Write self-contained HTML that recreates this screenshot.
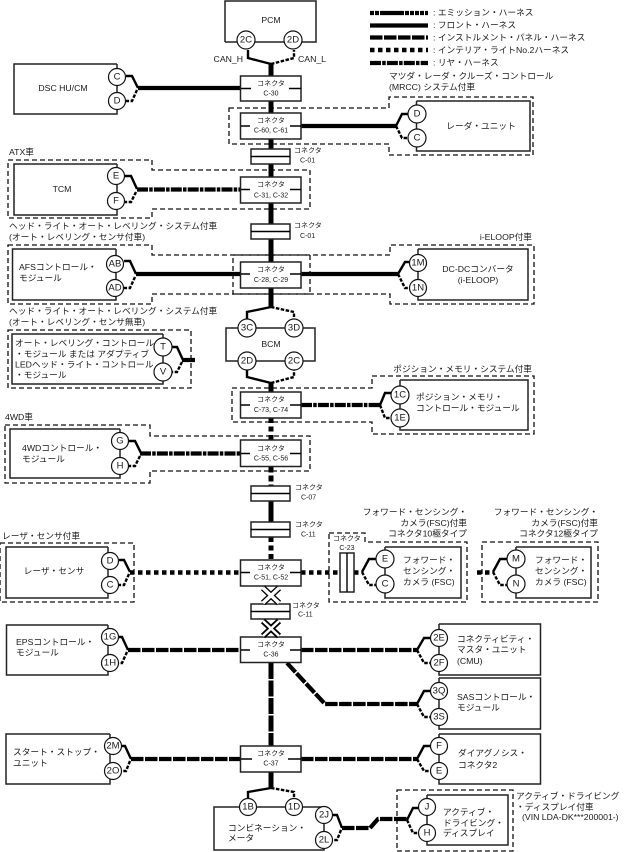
<!DOCTYPE html>
<html><head><meta charset="utf-8"><style>
html,body{margin:0;padding:0;background:#fff}
svg{display:block}
text{font-family:"Liberation Sans","Noto Sans CJK JP",sans-serif;font-size:8.7px;fill:#1a1a1a;dominant-baseline:central}
.s{font-size:7px}
.m{text-anchor:middle}
.e{text-anchor:end}
.c{font-size:9.5px;text-anchor:middle}
.b{fill:none;stroke:#222;stroke-width:1.5}
.d{fill:none;stroke:#111;stroke-width:1.3;stroke-dasharray:5 3}
.o{fill:#fff;stroke:#111;stroke-width:1.2}
.f{fill:none;stroke:#000;stroke-width:2.4}
.g{fill:none;stroke:#000;stroke-width:2.4;stroke-dasharray:3.5 1.5}
.t{fill:none;stroke:#000;stroke-width:1.4}
.w0{fill:none;stroke:#000;stroke-width:4.2}
.ip{fill:none;stroke:#000;stroke-width:4.2;stroke-dasharray:12.5 1.5}
.in{fill:none;stroke:#000;stroke-width:4.5;stroke-dasharray:4.5 3.5}
.re{fill:none;stroke:#000;stroke-width:4.2;stroke-dasharray:11 1.2 3.5 1.2}
.em{fill:none;stroke:#000;stroke-width:4.2;stroke-dasharray:4 1 4 1 24 1 4 1 4 1}
.v{fill:none;stroke:#000;stroke-width:5}
</style></head><body>
<svg width="627" height="852" viewBox="0 0 627 852" xmlns="http://www.w3.org/2000/svg">
<!-- legend -->
<path class="em" d="M370 13H428"/><path class="w0" d="M370 25.500H428"/><path class="ip" d="M370 37.500H428"/><path class="in" d="M370 50H428"/><path class="re" d="M370 63H428"/>
<text x="433" y="12.500">: エミッション・ハーネス</text>
<text x="433" y="25">: フロント・ハーネス</text>
<text x="433" y="37.500">: インストルメント・パネル・ハーネス</text>
<text x="433" y="50">: インテリア・ライトNo.2ハーネス</text>
<text x="433" y="62.500">: リヤ・ハーネス</text>
<text x="389" y="76">マツダ・レーダ・クルーズ・コントロール</text>
<text x="389" y="87">(MRCC) システム付車</text>

<!-- dashed zones -->
<path class="d" d="M229 108H389V97H533V155H389V144H229Z"/>
<path class="d" d="M8 160H152V170H310V209H152V218H8Z"/>
<path class="d" d="M8 245H152V255H310V294H152V304H8Z"/>
<path class="d" d="M233 255H390V245H534V304H390V294H233Z"/>
<path class="d" d="M8 330H191V388H8Z"/>
<path class="d" d="M232 388H372V376H534V434H372V422H232Z"/>
<path class="d" d="M5 425H150V436H310V471H150V483H5Z"/>
<path class="d" d="M0 543H134V602H0Z"/>
<path class="d" d="M329 533H365V542H467V602H329Z"/>
<path class="d" d="M482 542H598V602H482Z"/>
<path class="d" d="M397 790H513V851H397Z"/>

<!-- spine -->
<path class="v" d="M271 64V76M271 101V113M271 139V149M271 164V177"/>
<path class="v" d="M271 203V224M271 239V262M271 288V307"/>
<path class="v" d="M271 383V392" />
<path class="v" d="M271 418V440" stroke-dasharray="5 3.500"/>
<path class="v" d="M271 466.500V486" stroke-dasharray="6 3"/>
<path class="v" d="M271 501V522"/>
<path class="v" d="M271 537V560" stroke-dasharray="5 3.500"/>
<path class="v" d="M271 663V746" stroke-dasharray="16 1.500"/>
<path class="v" d="M271 772V788"/>

<!-- devices -->
<path class="b" d="M225 42V1H316V42H225"/>
<path class="b" d="M117 64H14V114H117V64"/>
<path class="b" d="M416.500 101H530V151H416.500V101"/>
<path class="b" d="M117 164H14V215H117V164"/>
<path class="b" d="M116 249H12.500V300H116V249"/>
<path class="b" d="M418 249H528V300H418V249"/>
<path class="b" d="M163 334H12V384H163V334"/>
<path class="b" d="M226 328H315V361H226Z"/>
<path class="b" d="M400 380H528V430H400V380"/>
<path class="b" d="M120 429H10V478H120V429"/>
<path class="b" d="M108 547H6V598H108V547"/>
<path class="b" d="M385 547H461V598H385V547"/>
<path class="b" d="M516 547H591V598H516V547"/>
<path class="b" d="M108 625H6.500V675H108V625"/>
<path class="b" d="M439 624H540.500V675H439V624"/>
<path class="b" d="M439 678H540.500V729H439V678"/>
<path class="b" d="M110 734H6V784H110V734"/>
<path class="b" d="M439 734H540.500V784H439V734"/>
<path class="b" d="M324 807H214V850H324V807"/>
<path class="b" d="M427 795H508V845H427V795"/>

<!-- harnesses -->
<path class="f" d="M248 50V58L271 64"/><path class="g" d="M271 64L294 58V50"/>
<path class="w0" d="M138 88H240"/><path class="f" d="M126 76H132L138 88"/><path class="g" d="M137 90L132 101H126"/>
<path class="w0" d="M301 126H396"/><path class="f" d="M396 126L402 114H408"/><path class="g" d="M396 126L402 138H408"/>
<path class="re" d="M137 189.500H240"/><path class="f" d="M125 176H131L137 189"/><path class="g" d="M136 192L131 202H125"/>
<path class="w0" d="M136 274H240M301 274H398"/><path class="f" d="M124 261H130L136 274"/><path class="g" d="M135 277L130 288H124"/>
<path class="f" d="M398 274L405 262H410"/><path class="g" d="M398 274L405 288H410"/>
<path class="w0" d="M182 360H195"/><path class="f" d="M172 347H177L183 360"/><path class="g" d="M182 362L177 372H172"/>
<path class="f" d="M271 307L247 312V320"/><path class="g" d="M271 307L294 312V320"/>
<path class="f" d="M247 370V377L271 383"/><path class="g" d="M271 383L294 377V370"/>
<path class="re" d="M301 405H380"/><path class="f" d="M380 405L385 393H391"/><path class="g" d="M380 405L385 418H391"/>
<path class="re" d="M140 453.500H240"/><path class="f" d="M129 441H135L141 453"/><path class="g" d="M140 456L135 466H129"/>
<path class="in" d="M130 572.500H240M301 572.500H340M354 572.500H362"/><path class="f" d="M119 560H124L130 572"/><path class="g" d="M129 574L124 585H119"/>
<path class="f" d="M362 572L369 559H376"/><path class="g" d="M362 572L369 585H376"/>
<path class="in" d="M477 572.500H493"/><path class="f" d="M493 572L500 559H507"/><path class="g" d="M493 572L500 585H507"/>
<path class="ip" d="M128 650H240M301 650H417"/><path class="f" d="M119 637H122L128 650"/><path class="g" d="M127 652L122 663H119"/>
<path class="f" d="M417 650L424 638H430"/><path class="g" d="M417 650L424 663H430"/>
<path class="ip" d="M287 663L325 704H417"/><path class="f" d="M417 704L424 691H430"/><path class="g" d="M417 704L424 717H430"/>
<path class="ip" d="M131 759H240M301 759H417"/><path class="f" d="M122 746H125L131 759"/><path class="g" d="M130 761L126 771H122"/>
<path class="f" d="M417 759L424 746H430"/><path class="g" d="M417 759L424 771H430"/>
<path class="f" d="M271 788L248 792V800"/><path class="g" d="M271 788L294 792V800"/>
<path class="f" d="M333 815H337L342 828"/><path class="g" d="M341 830L337 840H333"/>
<path class="ip" d="M342 828H370L378 819H407"/><path class="f" d="M407 820L413 808H419"/><path class="g" d="M407 820L413 833H419"/>

<!-- connector boxes -->
<g class="o" style="stroke:#222;stroke-width:1.5">
<rect x="240.500" y="76" width="60.500" height="25"/>
<rect x="240.500" y="113" width="60.500" height="26"/>
<rect x="240.500" y="177" width="60.500" height="26"/>
<rect x="240.500" y="262" width="60.500" height="26"/>
<rect x="240.500" y="392" width="60.500" height="26"/>
<rect x="240.500" y="440" width="60.500" height="26.500"/>
<rect x="240.500" y="560" width="60.500" height="26"/>
<rect x="240.500" y="637" width="60.500" height="25.500"/>
<rect x="240.500" y="746" width="60.500" height="26"/>
<rect x="251" y="149" width="39" height="15"/>
<rect x="251" y="224" width="39" height="15"/>
<rect x="251" y="486" width="39" height="15"/>
<rect x="251" y="522" width="39" height="15"/>
<rect x="251" y="604" width="39" height="15"/>
<rect x="340" y="553" width="14" height="39"/>
</g>
<path class="t" d="M251 156.500H290M251 231.500H290M251 493.500H290M251 529.500H290M251 611.500H290M347 553V592"/>
<path class="t" d="M241 88.500H251M289 88.500H301M241 126H250M290 126H301M241 189.500H250M290 189.500H301M241 274H250M290 274H301M241 405H250M290 405H301M241 453.500H250M290 453.500H301M241 572.500H250M290 572.500H301M241 650H250M290 650H301M241 759H252M288 759H301"/>

<!-- X marks -->
<path d="M263 588L279 603M279 588L263 603M263 621L279 636M279 621L263 636" fill="none" stroke="#000" stroke-width="6"/>
<path d="M263 588L279 603M279 588L263 603" fill="none" stroke="#fff" stroke-width="3.500"/>
<path d="M263 621L279 636M279 621L263 636" fill="none" stroke="#fff" stroke-width="2.500"/>

<!-- pin circles -->
<g class="o">
<circle cx="246" cy="40" r="9"/><circle cx="293" cy="40" r="9"/>
<circle cx="117" cy="77" r="8.500"/><circle cx="117" cy="101" r="8.500"/>
<circle cx="417" cy="114" r="9"/><circle cx="417" cy="138" r="9"/>
<circle cx="116" cy="176" r="8.500"/><circle cx="116" cy="201" r="8.500"/>
<circle cx="115" cy="264" r="8.500"/><circle cx="115" cy="288" r="8.500"/>
<circle cx="418" cy="263" r="8.500"/><circle cx="418" cy="288" r="8.500"/>
<circle cx="163" cy="347" r="9"/><circle cx="163" cy="372" r="9"/>
<circle cx="247" cy="328" r="9"/><circle cx="294" cy="328" r="9"/>
<circle cx="247" cy="361" r="9"/><circle cx="294" cy="361" r="9"/>
<circle cx="400" cy="395" r="9"/><circle cx="400" cy="418" r="9"/>
<circle cx="120" cy="441" r="8.500"/><circle cx="120" cy="466" r="8.500"/>
<circle cx="110" cy="561" r="8.500"/><circle cx="110" cy="585" r="8.500"/>
<circle cx="385" cy="559" r="9"/><circle cx="385" cy="584" r="9"/>
<circle cx="516" cy="559" r="9"/><circle cx="516" cy="584" r="9"/>
<circle cx="110" cy="637" r="8.500"/><circle cx="110" cy="663" r="8.500"/>
<circle cx="439" cy="638" r="8.500"/><circle cx="439" cy="663" r="8.500"/>
<circle cx="439" cy="691" r="8.500"/><circle cx="439" cy="717" r="8.500"/>
<circle cx="113" cy="746" r="8.500"/><circle cx="113" cy="771" r="8.500"/>
<circle cx="439" cy="746" r="8.500"/><circle cx="439" cy="771" r="8.500"/>
<circle cx="248" cy="807" r="8.500"/><circle cx="294" cy="807" r="8.500"/>
<circle cx="324" cy="815" r="8.500"/><circle cx="324" cy="840" r="8.500"/>
<circle cx="427" cy="807" r="8.500"/><circle cx="427" cy="833" r="8.500"/>
</g>
<text class="c" x="246" y="40">2C</text><text class="c" x="293" y="40">2D</text>
<text class="c" x="117" y="77">C</text><text class="c" x="117" y="101">D</text>
<text class="c" x="417" y="114">D</text><text class="c" x="417" y="138">C</text>
<text class="c" x="116" y="176">E</text><text class="c" x="116" y="201">F</text>
<text class="c" x="115" y="264">AB</text><text class="c" x="115" y="288">AD</text>
<text class="c" x="418" y="263">1M</text><text class="c" x="418" y="288">1N</text>
<text class="c" x="163" y="347">T</text><text class="c" x="163" y="372">V</text>
<text class="c" x="247" y="328">3C</text><text class="c" x="294" y="328">3D</text>
<text class="c" x="247" y="361">2D</text><text class="c" x="294" y="361">2C</text>
<text class="c" x="400" y="395">1C</text><text class="c" x="400" y="418">1E</text>
<text class="c" x="120" y="441">G</text><text class="c" x="120" y="466">H</text>
<text class="c" x="110" y="561">D</text><text class="c" x="110" y="585">C</text>
<text class="c" x="385" y="559">E</text><text class="c" x="385" y="584">C</text>
<text class="c" x="516" y="559">M</text><text class="c" x="516" y="584">N</text>
<text class="c" x="110" y="637">1G</text><text class="c" x="110" y="663">1H</text>
<text class="c" x="439" y="638">2E</text><text class="c" x="439" y="663">2F</text>
<text class="c" x="439" y="691">3Q</text><text class="c" x="439" y="717">3S</text>
<text class="c" x="113" y="746">2M</text><text class="c" x="113" y="771">2O</text>
<text class="c" x="439" y="746">F</text><text class="c" x="439" y="771">E</text>
<text class="c" x="248" y="807">1B</text><text class="c" x="294" y="807">1D</text>
<text class="c" x="324" y="815">2J</text><text class="c" x="324" y="840">2L</text>
<text class="c" x="427" y="807">J</text><text class="c" x="427" y="833">H</text>

<!-- connector labels -->
<g class="s">
<text class="s m" x="271" y="84">コネクタ</text><text class="s m" x="271" y="94">C-30</text>
<text class="s m" x="271" y="121">コネクタ</text><text class="s m" x="271" y="131">C-60, C-61</text>
<text class="s m" x="271" y="185">コネクタ</text><text class="s m" x="271" y="196">C-31, C-32</text>
<text class="s m" x="271" y="270">コネクタ</text><text class="s m" x="271" y="280.500">C-28, C-29</text>
<text class="s m" x="271" y="400">コネクタ</text><text class="s m" x="271" y="410.500">C-73, C-74</text>
<text class="s m" x="271" y="449">コネクタ</text><text class="s m" x="271" y="459">C-55, C-56</text>
<text class="s m" x="271" y="568">コネクタ</text><text class="s m" x="271" y="578">C-51, C-52</text>
<text class="s m" x="271" y="645">コネクタ</text><text class="s m" x="271" y="655">C-36</text>
<text class="s m" x="271" y="754">コネクタ</text><text class="s m" x="271" y="764">C-37</text>
<text class="s" x="294" y="151">コネクタ</text><text class="s" x="300" y="161">C-01</text>
<text class="s" x="294" y="226">コネクタ</text><text class="s" x="300" y="236.500">C-01</text>
<text class="s" x="295" y="488">コネクタ</text><text class="s" x="301" y="498">C-07</text>
<text class="s" x="295" y="525">コネクタ</text><text class="s" x="301" y="535">C-11</text>
<text class="s" x="292" y="606">コネクタ</text><text class="s" x="298" y="615">C-11</text>
<text class="s" x="333" y="539">コネクタ</text><text class="s m" x="347" y="548.500">C-23</text>
</g>

<!-- device text -->
<text class="m" x="271" y="20">PCM</text>
<text class="e" x="243" y="59">CAN_H</text><text x="298" y="59">CAN_L</text>
<text class="m" x="63" y="88">DSC HU/CM</text>
<text class="m" x="481" y="126">レーダ・ユニット</text>
<text class="m" x="62" y="189">TCM</text>
<text x="9" y="152">ATX車</text>
<text x="9" y="226">ヘッド・ライト・オート・レベリング・システム付車</text>
<text x="9" y="237">(オート・レベリング・センサ付車)</text>
<text x="19" y="267">AFSコントロール・</text><text x="19" y="278">モジュール</text>
<text class="e" x="532" y="237">i-ELOOP付車</text>
<text class="m" x="478" y="269">DC-DCコンバータ</text><text class="m" x="478" y="280">(i-ELOOP)</text>
<text x="9" y="311">ヘッド・ライト・オート・レベリング・システム付車</text>
<text x="9" y="322">(オート・レベリング・センサ無車)</text>
<text x="15" y="343">オート・レベリング・コントロール</text>
<text x="15" y="354">・モジュール または アダプティブ</text>
<text x="15" y="364.500">LEDヘッド・ライト・コントロール</text>
<text x="15" y="375">・モジュール</text>
<text class="m" x="271" y="344">BCM</text>
<text class="e" x="532" y="369">ポジション・メモリ・システム付車</text>
<text x="416" y="397">ポジション・メモリ・</text><text x="416" y="408">コントロール・モジュール</text>
<text x="5" y="417">4WD車</text>
<text x="22" y="448">4WDコントロール・</text><text x="22" y="459">モジュール</text>
<text x="2" y="536">レーザ・センサ付車</text>
<text class="m" x="54" y="571">レーザ・センサ</text>
<text class="e" x="467" y="512">フォワード・センシング・</text><text class="e" x="467" y="523">カメラ(FSC)付車</text><text class="e" x="467" y="533.500">コネクタ10極タイプ</text>
<text x="403" y="560">フォワード・</text><text x="403" y="571">センシング・</text><text x="403" y="582">カメラ (FSC)</text>
<text class="e" x="598" y="512">フォワード・センシング・</text><text class="e" x="598" y="523">カメラ(FSC)付車</text><text class="e" x="598" y="533.500">コネクタ12極タイプ</text>
<text x="535" y="560">フォワード・</text><text x="535" y="571">センシング・</text><text x="535" y="582">カメラ (FSC)</text>
<text x="16" y="642">EPSコントロール・</text><text x="16" y="652.500">モジュール</text>
<text x="457" y="639">コネクティビティ・</text><text x="457" y="649.500">マスタ・ユニット</text><text x="457" y="661">(CMU)</text>
<text x="457" y="697">SASコントロール・</text><text x="457" y="707.500">モジュール</text>
<text x="13" y="752">スタート・ストップ・</text><text x="13" y="763">ユニット</text>
<text x="458" y="753">ダイアグノシス・</text><text x="458" y="765">コネクタ2</text>
<text x="228" y="828">コンビネーション・</text><text x="228" y="838">メータ</text>
<text x="443" y="812">アクティブ・</text><text x="443" y="823">ドライビング・</text><text x="443" y="833">ディスプレイ</text>
<text x="516" y="796">アクティブ・ドライビング</text><text x="516" y="807">・ディスプレイ付車</text><text x="522" y="817">(VIN LDA-DK***200001-)</text>
</svg>
</body></html>
